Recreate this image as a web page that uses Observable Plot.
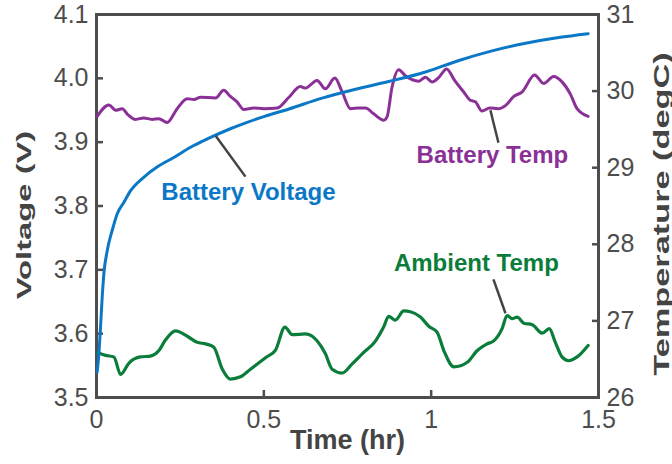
<!DOCTYPE html>
<html>
<head>
<meta charset="utf-8">
<script src="https://cdn.jsdelivr.net/npm/d3@7"></script>
<script src="https://cdn.jsdelivr.net/npm/@observablehq/plot@0.6"></script>
<style>
  html, body { margin: 0; padding: 0; background: #fff; }
  #chart svg { display: block; }
</style>
</head>
<body>
<div id="chart"></div>
<script>
// ---- Data ----
const voltTime = [0.002,0.007,0.012,0.017,0.022,0.032,0.047,0.062,0.082,0.102,0.141,0.181,0.231,0.281,0.331,0.400,0.450,0.500,0.575,0.674,0.774,0.873,0.983,1.083,1.182,1.282,1.381,1.469];
const batteryVoltage = [3.540,3.568,3.610,3.657,3.694,3.730,3.762,3.788,3.806,3.824,3.845,3.861,3.876,3.892,3.905,3.921,3.931,3.940,3.952,3.969,3.983,3.995,4.010,4.028,4.043,4.055,4.064,4.070];

const battTempTime = [0.002,0.037,0.057,0.077,0.092,0.117,0.141,0.166,0.186,0.211,0.241,0.271,0.291,0.311,0.356,0.380,0.400,0.420,0.440,0.470,0.500,0.540,0.575,0.609,0.624,0.659,0.684,0.712,0.734,0.759,0.784,0.804,0.829,0.858,0.868,0.883,0.903,0.923,0.963,0.983,1.003,1.023,1.046,1.070,1.097,1.117,1.132,1.152,1.175,1.200,1.222,1.247,1.272,1.309,1.336,1.366,1.391,1.416,1.436,1.469];
const batteryTemp = [29.67,29.82,29.75,29.77,29.70,29.63,29.65,29.63,29.64,29.59,29.77,29.90,29.89,29.92,29.91,30.01,29.93,29.86,29.76,29.78,29.77,29.78,29.92,30.06,30.04,30.14,30.03,30.17,29.99,29.77,29.78,29.78,29.70,29.62,29.66,30.05,30.28,30.20,30.13,30.18,30.12,30.18,30.29,30.14,29.99,29.88,29.86,29.74,29.78,29.77,29.81,29.93,29.99,30.21,30.10,30.19,30.12,29.96,29.77,29.67];

const ambTempTime = [0.002,0.027,0.052,0.072,0.097,0.131,0.161,0.186,0.206,0.236,0.271,0.301,0.326,0.350,0.376,0.400,0.430,0.460,0.505,0.535,0.563,0.585,0.624,0.659,0.684,0.704,0.734,0.764,0.794,0.834,0.858,0.873,0.893,0.918,0.938,0.968,0.993,1.018,1.038,1.068,1.108,1.137,1.167,1.187,1.212,1.227,1.242,1.257,1.277,1.302,1.332,1.353,1.371,1.391,1.411,1.436,1.469];
const ambientTemp = [26.59,26.55,26.53,26.30,26.45,26.53,26.54,26.61,26.75,26.87,26.80,26.72,26.70,26.66,26.37,26.24,26.27,26.37,26.52,26.62,26.92,26.82,26.83,26.74,26.57,26.37,26.32,26.44,26.57,26.74,26.92,27.06,27.01,27.13,27.12,27.05,26.93,26.85,26.61,26.40,26.46,26.61,26.70,26.74,26.90,27.07,27.03,27.05,26.97,26.95,26.84,26.90,26.72,26.53,26.48,26.53,26.68];

const timeTicks = [0, 0.5, 1, 1.5];
const voltTicks = [3.5, 3.6, 3.7, 3.8, 3.9, 4.0, 4.1];
const tempTicks = [26, 27, 28, 29, 30, 31];

const labelNames = ["Battery Voltage", "Battery Temp", "Ambient Temp"];
const labelTime = [0.454, 1.183, 1.135];
const labelVolt = [3.821, 3.879, 3.710];
const leaderTime1 = [0.356, 1.177, 1.186];
const leaderVolt1 = [3.910, 3.950, 3.685];
const leaderTime2 = [0.445, 1.201, 1.222];
const leaderVolt2 = [3.846, 3.899, 3.632];

// ---- Helpers ----
const tempToVolt = t => 3.5 + (t - 26) * 0.12;
const voltToTemp = v => 26 + (v - 3.5) / 0.12;

const blue = "#0a78c6", purple = "#8a3096", green = "#0b7d3a", axisGray = "#4d4d4d";
const labelColors = [blue, purple, green];

const voltRows = voltTime.map((t, i) => ({t, v: batteryVoltage[i]}));
const battRows = battTempTime.map((t, i) => ({t, v: tempToVolt(batteryTemp[i])}));
const ambRows = ambTempTime.map((t, i) => ({t, v: tempToVolt(ambientTemp[i])}));
const labels = labelNames.map((name, i) => ({name, t: labelTime[i], v: labelVolt[i], color: labelColors[i]}));
const leaders = labelNames.map((name, i) => ({t1: leaderTime1[i], v1: leaderVolt1[i], t2: leaderTime2[i], v2: leaderVolt2[i]}));

const chart = Plot.plot({
  width: 672,
  height: 464,
  marginLeft: 96,
  marginRight: 74,
  marginTop: 14,
  marginBottom: 67,
  style: {fontFamily: "'Liberation Sans', Arial, sans-serif", background: "white"},
  x: {domain: [0, 1.5]},
  y: {domain: [3.5, 4.1]},
  marks: [
    Plot.axisX({anchor: "bottom", ticks: timeTicks, tickSize: -7, tickPadding: 20, fontSize: 25, color: axisGray, strokeWidth: 2.5, tickFormat: d => String(d), label: null}),
    Plot.axisY({anchor: "left", ticks: voltTicks, tickSize: -7, tickPadding: 15, fontSize: 25, color: axisGray, strokeWidth: 2.5, tickFormat: d3.format(".1f"), label: null}),
    Plot.axisY({anchor: "right", ticks: tempTicks.map(tempToVolt), tickSize: -7, tickPadding: 15, fontSize: 25, color: axisGray, strokeWidth: 2.5, tickFormat: v => String(Math.round(voltToTemp(v))), label: null}),
    Plot.frame({stroke: axisGray, strokeWidth: 3}),
    Plot.line(battRows, {x: "t", y: "v", stroke: purple, strokeWidth: 3, curve: "monotone-x"}),
    Plot.line(ambRows, {x: "t", y: "v", stroke: green, strokeWidth: 3.2, curve: "monotone-x"}),
    Plot.line(voltRows, {x: "t", y: "v", stroke: blue, strokeWidth: 3, curve: "monotone-x"}),
    Plot.link(leaders, {x1: "t1", y1: "v1", x2: "t2", y2: "v2", stroke: "#444", strokeWidth: 2.5}),
    Plot.text(labels, {x: "t", y: "v", text: "name", fill: "color", fontSize: 24, fontWeight: "bold"}),
    Plot.text(["Time (hr)"], {frameAnchor: "bottom", dy: 51, fontSize: 27, fontWeight: "bold", fill: "#444"}),
    Plot.text(["Voltage (V)"], {frameAnchor: "left", textAnchor: "middle", lineAnchor: "middle", dx: -72, dy: 9, rotate: -90, fontSize: 21, fontWeight: "bold", fill: "#444"}),
    Plot.text(["Temperature (degC)"], {frameAnchor: "right", textAnchor: "middle", lineAnchor: "middle", dx: 63, dy: 8, rotate: -90, fontSize: 22, fontWeight: "bold", fill: "#444"})
  ]
});

// The reference's rotated titles are drawn stretched along their length.
d3.select(chart).selectAll("text").each(function () {
  const s = this.textContent;
  if (s === "Voltage (V)" || s === "Temperature (degC)") {
    let el = this;
    while (el && !el.getAttribute("transform")) el = el.parentNode;
    if (el && el.getAttribute) el.setAttribute("transform", el.getAttribute("transform") + " scale(1.56,1)");
  }
});

document.getElementById("chart").appendChild(chart);
</script>
</body>
</html>
